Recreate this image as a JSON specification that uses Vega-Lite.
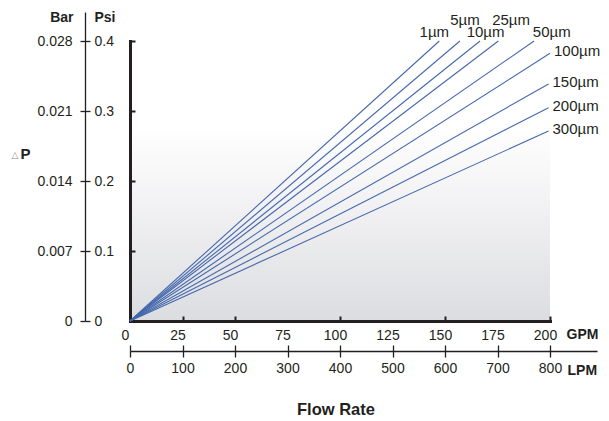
{
  "$schema": "https://vega.github.io/schema/vega-lite/v6.json",
  "width": 420,
  "height": 280,
  "autosize": {"type": "none"},
  "padding": {"left": 130, "top": 41, "right": 59, "bottom": 100},
  "background": "white",
  "config": {
    "view": {
      "stroke": null,
      "fill": {"gradient": "linear", "x1": 0, "y1": 0, "x2": 0, "y2": 1,
        "stops": [{"offset": 0, "color": "#ffffff"}, {"offset": 0.3, "color": "#ffffff"}, {"offset": 0.6, "color": "#f1f1f3"}, {"offset": 1, "color": "#dcdde0"}]}
    },
    "axis": {"grid": false, "labelFont": "Liberation Sans", "titleFont": "Liberation Sans", "labelFontSize": 14, "labelColor": "#231f20", "titleColor": "#231f20", "titleFontSize": 14, "titleFontWeight": "bold", "domainColor": "#231f20", "tickColor": "#231f20"},
    "text": {"font": "Liberation Sans"}
  },
  "data": {
    "values": [
      {"size": "1µm", "gpm": 0, "psi": 0}, {"size": "1µm", "gpm": 147.3, "psi": 0.4},
      {"size": "5µm", "gpm": 0, "psi": 0}, {"size": "5µm", "gpm": 157.1, "psi": 0.4},
      {"size": "10µm", "gpm": 0, "psi": 0}, {"size": "10µm", "gpm": 166.7, "psi": 0.4},
      {"size": "25µm", "gpm": 0, "psi": 0}, {"size": "25µm", "gpm": 175.4, "psi": 0.4},
      {"size": "50µm", "gpm": 0, "psi": 0}, {"size": "50µm", "gpm": 192.4, "psi": 0.4},
      {"size": "100µm", "gpm": 0, "psi": 0}, {"size": "100µm", "gpm": 200, "psi": 0.3824},
      {"size": "150µm", "gpm": 0, "psi": 0}, {"size": "150µm", "gpm": 199.3, "psi": 0.3386},
      {"size": "200µm", "gpm": 0, "psi": 0}, {"size": "200µm", "gpm": 199.3, "psi": 0.3047},
      {"size": "300µm", "gpm": 0, "psi": 0}, {"size": "300µm", "gpm": 199.3, "psi": 0.2714}
    ]
  },
  "resolve": {"scale": {"x": "independent", "y": "independent"}, "axis": {"x": "independent", "y": "independent"}},
  "layer": [
    {
      "encoding": {
        "x": {"field": "gpm", "type": "quantitative",
          "scale": {"domain": [0, 200], "nice": false},
          "axis": {"orient": "bottom", "values": [0, 25, 50, 75, 100, 125, 150, 175, 200],
            "domainWidth": 3, "domainCap": "square", "tickSize": -5, "tickWidth": 2,
            "tickOpacity": {"condition": {"test": "datum.value == 75 || datum.value == 125 || datum.value == 175", "value": 0}, "value": 1},
            "labelPadding": 12, "labelOffset": -5, "labelFlush": false,
            "title": "GPM", "titleAngle": 0, "titleAlign": "left", "titleBaseline": "middle", "titleX": 436, "titleY": 13}},
        "y": {"field": "psi", "type": "quantitative",
          "scale": {"domain": [0, 0.4], "nice": false},
          "axis": {"orient": "left", "values": [0, 0.1, 0.2, 0.3, 0.4], "domainWidth": 3, "domainCap": "square",
            "tickSize": -5, "tickWidth": 2, "labels": false,
            "title": "P", "titleFontSize": 15, "titleAngle": 0, "titleAlign": "left", "titleBaseline": "middle", "titleX": -110, "titleY": 112}}
      },
      "layer": [
        {"mark": {"type": "line", "color": "#4568ad", "strokeWidth": 1.1}, "encoding": {"detail": {"field": "size"}}},
        {"transform": [{"filter": "datum.gpm > 0 && datum.psi < 0.39"}],
         "mark": {"type": "text", "align": "left", "baseline": "middle", "dx": 4, "dy": -2, "fontSize": 15, "color": "#231f20"},
         "encoding": {"text": {"field": "size"}}},
        {"transform": [{"filter": "datum.gpm > 0 && datum.size == '1µm'"}],
         "mark": {"type": "text", "align": "center", "baseline": "middle", "dx": -5, "dy": -9, "fontSize": 15, "color": "#231f20"},
         "encoding": {"text": {"field": "size"}}},
        {"transform": [{"filter": "datum.gpm > 0 && datum.size == '5µm'"}],
         "mark": {"type": "text", "align": "center", "baseline": "middle", "dx": 5, "dy": -21, "fontSize": 15, "color": "#231f20"},
         "encoding": {"text": {"field": "size"}}},
        {"transform": [{"filter": "datum.gpm > 0 && datum.size == '10µm'"}],
         "mark": {"type": "text", "align": "center", "baseline": "middle", "dx": 5.5, "dy": -9, "fontSize": 15, "color": "#231f20"},
         "encoding": {"text": {"field": "size"}}},
        {"transform": [{"filter": "datum.gpm > 0 && datum.size == '25µm'"}],
         "mark": {"type": "text", "align": "center", "baseline": "middle", "dx": 12.7, "dy": -21, "fontSize": 15, "color": "#231f20"},
         "encoding": {"text": {"field": "size"}}},
        {"transform": [{"filter": "datum.gpm > 0 && datum.size == '50µm'"}],
         "mark": {"type": "text", "align": "center", "baseline": "middle", "dx": 17.7, "dy": -9, "fontSize": 15, "color": "#231f20"},
         "encoding": {"text": {"field": "size"}}}
      ]
    },
    {
      "mark": {"type": "point", "opacity": 0},
      "encoding": {
        "x": {"field": "gpm", "type": "quantitative",
          "scale": {"domain": [0, 222.38], "range": [0, 467], "nice": false},
          "axis": {"orient": "bottom", "offset": 30, "values": [0, 25, 50, 75, 100, 125, 150, 175, 200],
            "labelExpr": "format(datum.value * 4, 'd')", "domainWidth": 1.3, "tickSize": 6, "tickWidth": 1.3,
            "labelPadding": 4, "labelFlush": false,
            "title": "LPM", "titleAngle": 0, "titleAlign": "left", "titleBaseline": "middle", "titleX": 437, "titleY": 19}},
        "y": {"field": "psi", "type": "quantitative",
          "scale": {"domain": [0, 0.44143], "range": [280, -29], "nice": false},
          "axis": {"orient": "left", "offset": 45, "values": [0, 0.1, 0.2, 0.3, 0.4],
            "labelExpr": "datum.value == 0 ? '0' : format(datum.value, '.1f')",
            "domainWidth": 1.3, "tickSize": -5, "tickWidth": 1.3, "labelAlign": "left", "labelBaseline": "middle", "labelPadding": -4, "labelFlush": false,
            "title": "Psi", "titleAngle": 0, "titleAlign": "left", "titleBaseline": "middle", "titleX": 9, "titleY": -24}}
      }
    },
    {
      "mark": {"type": "point", "opacity": 0},
      "encoding": {
        "x": {"field": "gpm", "type": "quantitative",
          "scale": {"domain": [0, 222.38], "range": [0, 467], "nice": false},
          "axis": {"orient": "bottom", "offset": 30, "values": [0, 25, 50, 75, 100, 125, 150, 175, 200],
            "domain": false, "labels": false, "tickSize": -6, "tickWidth": 1.3,
            "title": "Flow Rate", "titleFontSize": 16.5, "titleAngle": 0, "titleAlign": "center", "titleBaseline": "middle", "titleX": 205.5, "titleY": 58}},
        "y": {"field": "psi", "type": "quantitative",
          "scale": {"domain": [0, 0.44143], "range": [280, -29], "nice": false},
          "axis": {"orient": "left", "offset": 45, "values": [0, 0.1, 0.2, 0.3, 0.4],
            "labelExpr": "datum.value == 0 ? '0' : format(datum.value * 0.07, '.3f')",
            "domain": false, "tickSize": 5, "tickWidth": 1.3, "labelAlign": "right", "labelBaseline": "middle", "labelPadding": 8, "labelFlush": false,
            "title": "Bar", "titleAngle": 0, "titleAlign": "right", "titleBaseline": "middle", "titleX": -12, "titleY": -24}}
      }
    },
    {
      "mark": {"type": "point", "opacity": 0},
      "encoding": {
        "y": {"field": "psi", "type": "quantitative",
          "axis": {"orient": "left", "domain": false, "ticks": false, "labels": false,
            "title": "△", "titleFont": "DejaVu Sans", "titleFontSize": 9, "titleFontWeight": "normal", "titleColor": "#8a8a8a", "titleAngle": 0, "titleAlign": "left", "titleBaseline": "middle", "titleX": -119, "titleY": 113}}
      }
    }
  ]
}
